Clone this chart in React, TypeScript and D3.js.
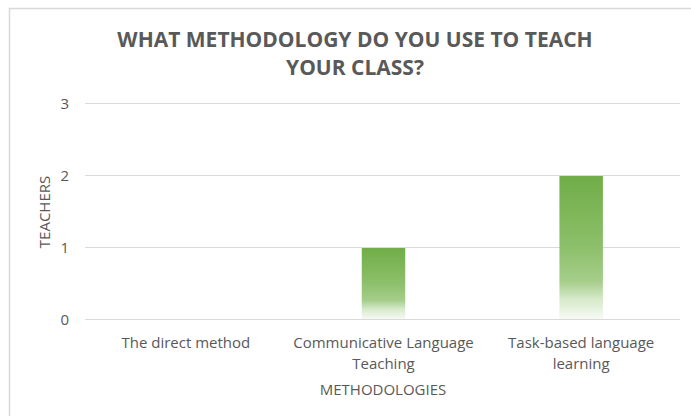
import React from "react";
import * as d3 from "d3";

const categories = ["The direct method", "Communicative Language\nTeaching", "Task-based language\nlearning"];
const teachers = [0, 1, 2];
const yTicks = [0, 1, 2, 3];
const titleLines = ["WHAT METHODOLOGY DO YOU USE TO TEACH", "YOUR CLASS?"];
const xTitle = "METHODOLOGIES";
const yTitle = "TEACHERS";

const W = 691;
const H = 416;
const plot = { left: 87, right: 680, top: 104, bottom: 320 };
const FONT = "'Open Sans', sans-serif";
const TXT = "#595959";
const FS = 15;

export default function App() {
  const x = d3.scaleBand<string>().domain(categories).range([plot.left, plot.right]).paddingInner(0.78).paddingOuter(0.39);
  const y = d3.scaleLinear().domain([0, 3]).range([plot.bottom, plot.top]);

  return (
    <svg width={W} height={H} style={{ position: "absolute", left: 0, top: 0, background: "#fff" }}>
      <defs>
        <linearGradient id="barGrad" x1="0" y1="0" x2="0" y2="1">
          <stop offset="0" stopColor="#70AD47" />
          <stop offset="0.5" stopColor="#8DC06B" />
          <stop offset="0.74" stopColor="#A6CE8B" />
          <stop offset="0.86" stopColor="#D6EAC9" />
          <stop offset="1" stopColor="#F6FAF3" />
        </linearGradient>
      </defs>
      <rect x={9.5} y={8.5} width={W + 20} height={H + 20} fill="#fff" stroke="#d9d9d9" strokeWidth={1.5} />
      {titleLines.map((t, i) => (
        <text key={i} x={355} y={47 + i * 28} textAnchor="middle" fontFamily={FONT} fontWeight="bold" fontSize={21} fill={TXT}>
          {t}
        </text>
      ))}
      {yTicks.map((t) => (
        <g key={t}>
          <line x1={plot.left - 2} x2={plot.right} y1={Math.round(y(t)) - 0.5} y2={Math.round(y(t)) - 0.5} stroke="#d9d9d9" strokeWidth={1.2} />
          <text x={69} y={y(t)} dy="0.35em" textAnchor="end" fontFamily={FONT} fontSize={FS} fill={TXT}>
            {t}
          </text>
        </g>
      ))}
      {categories.map((c, i) => (
        teachers[i] > 0 ? (
          <rect key={c} x={x(c)} y={y(teachers[i])} width={x.bandwidth()} height={y(0) - y(teachers[i]) - 1} fill="url(#barGrad)" />
        ) : null
      ))}
      {categories.map((c) => (
        <text key={c} textAnchor="middle" fontFamily={FONT} fontSize={FS} fill={TXT}>
          {c.split("\n").map((ln, j) => (
            <tspan key={j} x={(x(c) as number) + x.bandwidth() / 2} y={348 + j * 21}>
              {ln}
            </tspan>
          ))}
        </text>
      ))}
      <text x={383} y={395} textAnchor="middle" fontFamily={FONT} fontSize={FS} fill={TXT}>
        {xTitle}
      </text>
      <text transform={`translate(50, ${(plot.top + plot.bottom) / 2}) rotate(-90)`} textAnchor="middle" fontFamily={FONT} fontSize={FS} fill={TXT}>
        {yTitle}
      </text>
    </svg>
  );
}
